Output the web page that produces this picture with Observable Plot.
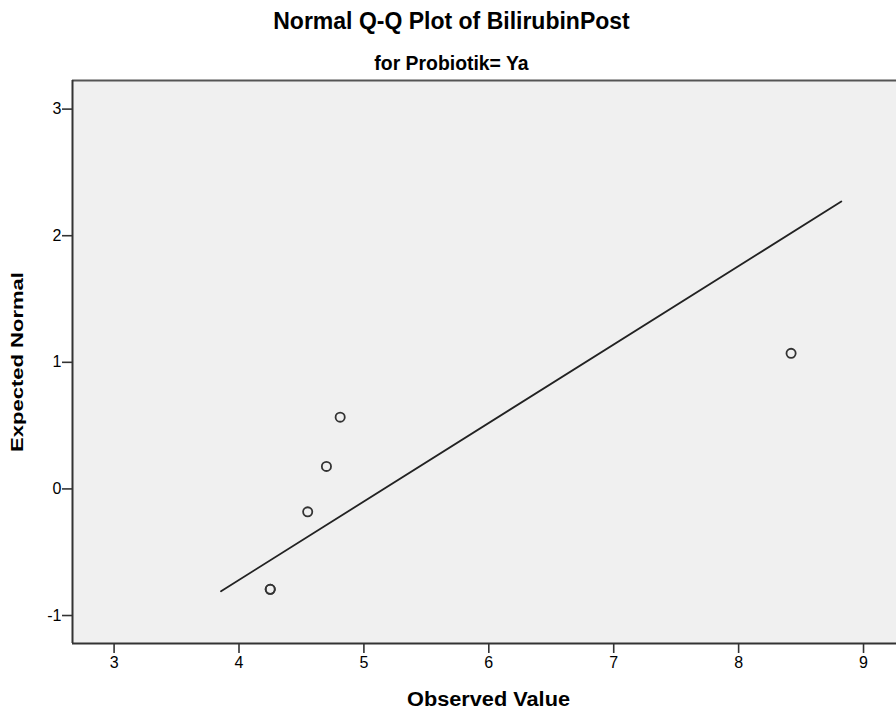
<!DOCTYPE html>
<html><head><meta charset="utf-8">
<script src="https://cdn.jsdelivr.net/npm/d3@7"></script>
<script src="https://cdn.jsdelivr.net/npm/@observablehq/plot@0.6"></script>
<style>
body{margin:0;background:#fff;width:896px;height:713px;overflow:hidden;font-family:"Liberation Sans",Arial,sans-serif;position:relative}
#title{position:absolute;left:0;width:903px;top:6px;text-align:center;font-weight:bold;font-size:23px;line-height:30px;color:#000}
#subtitle{position:absolute;left:0;width:903px;top:51px;text-align:center;font-weight:bold;font-size:19.4px;line-height:24px;color:#000}
#chart{position:absolute;top:70px;left:0}
</style></head>
<body>
<div id="title">Normal Q-Q Plot of BilirubinPost</div>
<div id="subtitle">for Probiotik= Ya</div>
<div id="chart"></div>
<script>
const observed = [4.25, 4.25, 4.55, 4.70, 4.81, 8.42];
const expected = [-0.793, -0.793, -0.181, 0.178, 0.567, 1.071];
const lineObserved = [3.856, 8.822];
const lineExpected = [-0.808, 2.270];
const xTicks = [3, 4, 5, 6, 7, 8, 9];
const yTicks = [-1, 0, 1, 2, 3];
const xDomain = [2.667, 9.264];
const yDomain = [-1.221, 3.226];
const xTitle = "Observed Value";
const yTitle = "Expected Normal";

const points = observed.map((v, i) => ({x: v, y: expected[i]}));
const refLine = lineObserved.map((v, i) => ({x: v, y: lineExpected[i]}));
const fmt = d => (d < 0 ? "-" + Math.abs(d) : String(d));

const chart = Plot.plot({
  width: 896,
  height: 643,
  marginLeft: 72,
  marginRight: 0,
  marginTop: 10,
  marginBottom: 70,
  x: {domain: xDomain},
  y: {domain: yDomain},
  style: {fontFamily: '"Liberation Sans", Arial, sans-serif', fontSize: "16px", color: "#000", background: "transparent", overflow: "visible"},
  marks: [
    Plot.frame({fill: "#f0f0f0", stroke: null}),
    Plot.ruleY([yDomain[1]], {stroke: "#555", strokeWidth: 2}),
    Plot.ruleY([yDomain[0]], {stroke: "#333", strokeWidth: 2}),
    Plot.ruleX([xDomain[0]], {stroke: "#333", strokeWidth: 2}),
    Plot.axisX(xTicks, {tickSize: 10, tickPadding: 3, tickFormat: fmt, label: null, stroke: "#333", strokeWidth: 1.6, fill: "#000"}),
    Plot.axisY(yTicks, {tickSize: 10, tickPadding: 1, tickFormat: fmt, label: null, stroke: "#333", strokeWidth: 1.6, fill: "#000"}),
    Plot.line(refLine, {x: "x", y: "y", stroke: "#222", strokeWidth: 1.8}),
    Plot.dot(points, {x: "x", y: "y", r: 4.6, stroke: "#333", strokeWidth: 1.8, fill: "none"}),
    Plot.text([xTitle], {frameAnchor: "bottom", dy: 56, dx: 4, textAnchor: "middle", lineAnchor: "middle", fontWeight: "bold", fontSize: 19.5, fill: "#000", className: "xtitle"}),
    Plot.text([yTitle], {frameAnchor: "left", dx: -54.5, rotate: -90, textAnchor: "middle", lineAnchor: "middle", fontWeight: "bold", fontSize: 17, fill: "#000", className: "ytitle"})
  ]
});
d3.select(chart).selectAll(".xtitle text").attr("textLength", 163).attr("lengthAdjust", "spacingAndGlyphs");
d3.select(chart).selectAll(".ytitle text").attr("textLength", 180).attr("lengthAdjust", "spacingAndGlyphs");
document.getElementById("chart").appendChild(chart);
</script>
</body></html>
